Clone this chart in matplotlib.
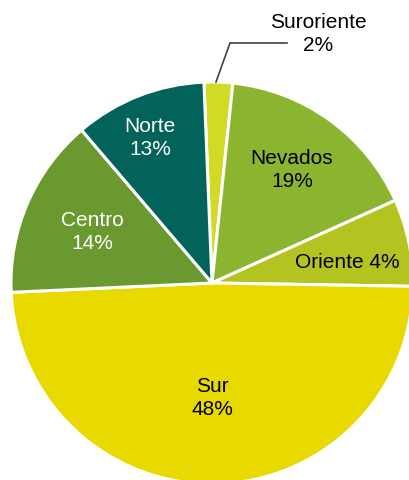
import matplotlib.pyplot as plt
from matplotlib import font_manager

# slice sizes (clockwise from the top)
regions = ['Suroriente', 'Nevados', 'Oriente', 'Sur', 'Centro', 'Norte']
shares = [2.3, 16.6, 7.0, 49.0, 14.5, 10.6]
pct_labels = ['2%', '19%', '4%', '48%', '14%', '13%']
colors = ['#d1da25', '#8cb52f', '#b3c320', '#e8d900', '#6a9a2f', '#02635b']
text_colors = ['black', 'black', 'black', 'black', 'white', 'white']

names = [f.name for f in font_manager.fontManager.ttflist]
fam = 'Liberation Sans Narrow' if 'Liberation Sans Narrow' in names else 'Liberation Sans'
plt.rcParams['font.family'] = [fam, 'DejaVu Sans']

W, H = 409, 480
fig = plt.figure(figsize=(W / 100, H / 100), dpi=100)
ax = fig.add_axes([0, 0, 1, 1])

ax.pie(shares, colors=colors, startangle=92.3, counterclock=False,
       center=(212, H - 283), radius=201,
       wedgeprops=dict(edgecolor='white', linewidth=2.2))
ax.set_xlim(0, W)
ax.set_ylim(0, H)
ax.set_aspect('equal')
ax.axis('off')

# label positions in pixels (x, y from top)
pos = {'Suroriente': (318, 34), 'Nevados': (292, 170), 'Centro': (92, 232),
       'Norte': (150, 138), 'Sur': (212, 398)}
for name, pct, tc in zip(regions, pct_labels, text_colors):
    if name == 'Oriente':
        ax.text(347, H - 262, f'{name} {pct}', ha='center', va='center',
                fontsize=15, color=tc)
        continue
    x, y = pos[name]
    ax.text(x, H - y, f'{name}\n{pct}', ha='center', va='center',
            fontsize=15, color=tc, linespacing=1.25)

# leader line for Suroriente
ax.plot([216, 230, 287], [H - 82, H - 43, H - 43], color='#404040', lw=1.2)

fig.savefig('out.png', dpi=100)
